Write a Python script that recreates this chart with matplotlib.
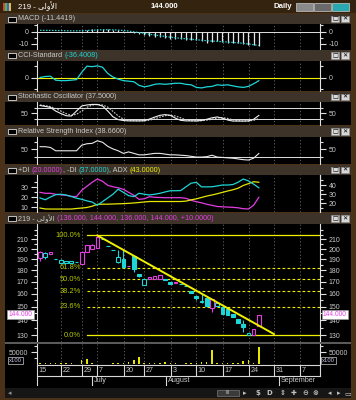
import matplotlib
matplotlib.use("Agg")
import matplotlib.pyplot as plt
from matplotlib.patches import Rectangle
from matplotlib.ticker import FixedLocator, NullFormatter, FixedFormatter
import numpy as np

plt.rcParams['font.family'] = ['Liberation Sans', 'DejaVu Sans']
plt.rcParams['axes.unicode_minus'] = False

# ---------------- DATA ----------------
days = list(range(43))
opens = [191, 192, 195, 190, 187, 187, 186.5, 188, 185.5, 197.5, 200, 201, 211, 203.5, 199, 188, 190, 184,
         193, 176.5, 167.5, 172, 172, 172.5, 172.5, 169.5, 169, 168, 166.5, 162.5, 158.3, 153.5, 156.7, 149,
         150.5, 150, 148, 144.4, 141, 137.3, 130, 130.5, 136]
highs = [198, 197, 197.5, 190, 190, 189, 188.8, 188, 197.5, 204, 205, 214.3, 211, 203.5, 199, 199, 199, 184,
         193, 176.5, 172, 174, 174.5, 176, 172.5, 169.5, 170, 168, 166.5, 162.5, 158.3, 161, 156.7, 156,
         153, 150, 149, 144.4, 141, 140, 131.3, 134.3, 144]
lows = [189, 190.5, 195, 190, 187, 187, 186.5, 188, 185.5, 197.5, 200, 201, 211, 203.5, 199, 187, 182.5, 184,
        178, 174, 167.5, 172, 172, 172.5, 171.5, 168, 169, 168, 166.5, 161, 155, 153, 150.5, 146,
        150.5, 144.5, 144, 142.5, 138, 132, 130, 130.5, 136]
closes = [197, 196, 197, 190, 189.5, 189, 188.8, 188, 197.5, 204, 204.5, 213, 211, 203.5, 199, 192.5, 183, 184,
          181, 175, 172, 174, 174.5, 176, 171.5, 168, 170, 168, 166.5, 161, 156.8, 154, 150.5, 156,
          153, 144.5, 144, 142.5, 138, 135.5, 131.3, 134, 144]
volume = [7000, 7000, 4200, 4200, 4200, 4200, 4200, 3000, 18000, 21000, 7000, 1500, 1000, 1500, 4200, 7000,
          7000, 8400, 18000, 32000, 7000, 4200, 7000, 4200, 8400, 4200, 4200, 2000, 7000, 4200, 4200, 9700,
          8400, 59700, 4200, 7000, 5600, 4200, 4200, 14000, 18000, 4200, 70800]
macd_hist = [0, 0, 0, -0.2, -0.4, -0.5, -0.4, -0.2, 0.5, 1.2, 1.8, 2.4, 2.4, 2.0, 1.5, 1.0, 0.3, -0.5, -1.0,
             -2.0, -3.0, -3.8, -4.2, -4.6, -5.2, -5.8, -6.0, -6.2, -6.5, -7.0, -7.2, -8.0, -9.0, -8.5, -8.0,
             -8.6, -9.2, -9.5, -9.6, -10.0, -10.9, -11.0, -11.44]
macd_signal = [1.0, 1.0, 1.0, 0.9, 0.8, 0.7, 0.6, 0.6, 0.7, 0.9, 1.1, 1.3, 1.5, 1.5, 1.4, 1.2, 0.9, 0.4, -0.2,
               -0.8, -1.5, -2.2, -2.8, -3.4, -4.0, -4.6, -5.1, -5.5, -5.9, -6.3, -6.7, -7.1, -7.5, -7.8, -8.0,
               -8.3, -8.6, -8.9, -9.2, -9.6, -10.2, -10.8, -11.4]
cci = [5, 18, 22, -30, -36, -36, -30, -23, 72, 153, 146, 157, 139, 58, 11, -16, -36, -43, -50, -97, -117,
       -104, -84, -77, -84, -77, -70, -70, -84, -90, -124, -131, -117, -111, -90, -97, -90, -104, -117, -124,
       -111, -77, -36.4]
stoch_k = [93, 88, 82, 62, 48, 36, 34, 62, 90, 96, 99, 99, 90, 62, 30, 14, 9, 7, 7, 7, 8, 17, 28, 38, 42, 38,
           22, 10, 7, 7, 7, 9, 16, 24, 29, 22, 12, 6, 6, 6, 7, 16, 37.5]
stoch_d = [96, 92, 87, 76, 62, 48, 38, 44, 62, 83, 95, 98, 96, 84, 60, 35, 17, 10, 8, 7, 7, 11, 18, 28, 36, 39,
           34, 24, 13, 8, 7, 8, 11, 16, 23, 25, 21, 13, 8, 6, 6, 10, 20]
rsi = [57, 57, 55, 46, 46, 46, 46, 46, 61, 65, 66, 73, 69, 58, 51, 46, 39, 43, 39, 35, 35, 37, 39, 39, 37, 35,
       35, 34, 33, 31, 29, 29, 30, 34, 29, 28, 27, 26, 24, 22, 21, 26, 38.66]
plus_di = [25, 24, 24, 23, 22.5, 22, 21, 20.6, 27, 31, 35, 38.3, 36, 32, 30.5, 29.5, 28, 25, 22, 18, 18.5, 20.6,
           20, 19.8, 19.6, 19.6, 19.6, 19.6, 19, 17, 15.6, 14.5, 13, 12, 10.8, 10.5, 10.2, 10, 9.5, 8.6, 8.3, 12, 20]
minus_di = [26, 24, 27, 29.5, 30, 29.2, 27.5, 25.7, 24.5, 22.8, 21.5, 18, 22, 26, 30, 35.5, 32, 28.5, 27.4, 31,
            30, 29.2, 30, 31, 32.5, 33.8, 33.8, 34, 38, 42, 42.9, 38, 38, 38.1, 39, 40, 40, 40.5, 43, 46.5, 44.5,
            41, 37]
adx = [15, 14, 13.9, 13.9, 13.9, 13.9, 13.9, 14.5, 15, 15.6, 17, 19, 19.2, 19.2, 19.4, 19.6, 19.8, 20.1, 20.5,
       21, 21.6, 22.1, 22.1, 22.1, 22.1, 22.1, 22.1, 22.1, 22.5, 23.9, 25, 26.5, 28, 29.2, 30.5, 32, 33.5, 34.8,
       36.5, 39.5, 41.5, 43.6, 43]
fib_low, fib_high = 130.0, 214.3
fib_levels = [0.0, 23.6, 38.2, 50.0, 61.8, 100.0]
trend_x = [11, 44.9]
trend_y = [214.3, 130.8]
week_pos = [-0.58, 4.0, 8.0, 11.0, 16.1, 20.0, 25.1, 29.9, 35.1, 40.1, 44.9, 49.9]
week_labels = ['15', '22', '29', '7', '20', '27', '3', '10', '17', '24', '31', '7']
month_pos = [10.0, 24.2, 45.9]
month_labels = ['July', 'August', 'September']
price_ticks = [130, 140, 150, 160, 170, 180, 190, 200, 210]
last_price = 144.0

# ---------------- STYLE / LAYOUT ----------------
W, H = 356, 400
fig = plt.figure(figsize=(W / 100, H / 100), dpi=100)
fig.patch.set_facecolor('#4a3118')
XMIN, XMAX = -0.58, 53.74
MAG = '#e23ee2'
CYA = '#1fd6d6'
YEL = '#f0f000'
GRAY_TXT = '#c8c8c8'
TITLE_BG = '#3d3328'
FS = 5.0
PAD = 2.2
ARABIC = '\ufef0\ufedf\ufeed\ufef7\ufe8d'  # الأولى (shaped, visual order)


def rect_px(x0, y0, x1, y1):
    return [x0 / W, 1 - y1 / H, (x1 - x0) / W, (y1 - y0) / H]


def blank(x0, y0, x1, y1, color):
    a = fig.add_axes(rect_px(x0, y0, x1, y1))
    a.set_facecolor(color)
    a.set_xticks([]); a.set_yticks([])
    for s in a.spines.values():
        s.set_visible(False)
    return a


renderer = fig.canvas.get_renderer()


def seq_text(x_px, y_px, parts, size=5.2, weight='normal'):
    x = x_px
    for s, c in parts:
        t = fig.text(x / W, 1 - y_px / H, s, color=c, fontsize=size, va='center', ha='left',
                     fontweight=weight)
        x += t.get_window_extent(renderer).width
    return x


def title_bar(y0, y1, parts):
    blank(5, y0, 351, y1, TITLE_BG)
    fig.add_artist(Rectangle(((8) / W, 1 - (y0 + 8) / H), 8 / W, 5 / H, transform=fig.transFigure,
                             facecolor='black', edgecolor='#dddddd', lw=0.6))
    seq_text(18, (y0 + y1) / 2, parts)
    for bx, sym in [(331, '□'), (341, '✕')]:
        fig.add_artist(Rectangle((bx / W, 1 - (y1 - 2) / H), 8 / W, (y1 - y0 - 4) / H,
                                 transform=fig.transFigure, facecolor='#d8d8d8', edgecolor='#909090', lw=0.5))
        fig.text((bx + 4) / W, 1 - ((y0 + y1) / 2) / H, sym, fontsize=4.5, color='black', ha='center',
                 va='center', fontweight='bold', family=['DejaVu Sans'])


def plot_axes(y0, y1):
    blank(5, y0, 351, y1, 'black')
    a = fig.add_axes(rect_px(37, y0, 320, y1))
    a.set_facecolor('none')
    a.set_xlim(XMIN, XMAX)
    for s in ['top', 'bottom']:
        a.spines[s].set_visible(False)
    for s in ['left', 'right']:
        a.spines[s].set_color('#e0e0e0'); a.spines[s].set_linewidth(0.8)
    a.tick_params(axis='x', bottom=False, labelbottom=False)
    a.tick_params(axis='y', which='both', colors='#e0e0e0', labelcolor=GRAY_TXT, left=True, right=True,
                  labelleft=True, labelright=True, direction='out', labelsize=FS, pad=PAD, width=0.8)
    a.tick_params(axis='y', which='major', length=4)
    a.tick_params(axis='y', which='minor', length=2)
    for p in week_pos[1:]:
        a.axvline(p, color='#6a6a6a', lw=0.6, ls=(0, (1.5, 2.5)), zorder=0)
    return a


# top bar
blank(0, 0, 356, 13, '#34230f')
for i, c in enumerate(['#e04040', '#40c040', '#4060e0', '#e0c040']):
    fig.add_artist(Rectangle(((3 + 2 * i) / W, 1 - 11 / H), 2 / W, 8 / H, transform=fig.transFigure,
                             facecolor=c, edgecolor='none'))
seq_text(18, 6.5, [('219 - ' + ARABIC, 'white')], size=5.6)
fig.text(164 / W, 1 - 6.5 / H, '144.000', color='white', fontsize=5.6, fontweight='bold', ha='center', va='center')
fig.text(292 / W, 1 - 6.5 / H, 'Daily', color='white', fontsize=5.6, fontweight='bold', ha='right', va='center')
for bx, fc in [(296, '#8a8a8a'), (314, '#6a6a6a'), (332, '#2aa8b0')]:
    fig.add_artist(Rectangle((bx / W, 1 - 11 / H), 17 / W, 8 / H, transform=fig.transFigure,
                             facecolor=fc, edgecolor='#cccccc', lw=0.5))

x = np.array(days)

# MACD
title_bar(14, 24, [('MACD (-11.4419)', GRAY_TXT)])
ax = plot_axes(24, 50)
ax.set_ylim(-15.1, 6.2)
ax.axhline(0, color='#e0e0e0', lw=0.7)
ax.vlines(x, 0, macd_hist, color='#e8e8e8', lw=0.9)
ax.plot(x, macd_signal, color=CYA, lw=0.9, ls=(0, (1.2, 1.2)))
ax.yaxis.set_major_locator(FixedLocator([0, -10]))
ax.yaxis.set_minor_locator(FixedLocator([-5, 5]))

# CCI
title_bar(50, 61, [('CCI-Standard ', GRAY_TXT), ('(-36.4008)', CYA)])
ax = plot_axes(61, 91)
ax.set_ylim(-171, 220)
ax.axhline(0, color=YEL, lw=0.8)
ax.plot(x, cci, color=CYA, lw=0.9)
ax.yaxis.set_major_locator(FixedLocator([0]))
ax.yaxis.set_minor_locator(FixedLocator([-150, 150]))

# Stochastic
title_bar(92, 102, [('Stochastic Oscillator (37.5000)', GRAY_TXT)])
ax = plot_axes(102, 125)
ax.set_ylim(-16, 112.5)
ax.axhline(80, color='#e0e0e0', lw=0.7)
ax.axhline(20, color='#e0e0e0', lw=0.7)
ax.plot(x, stoch_d, color='#d0d0d0', lw=0.8, ls=(0, (1.5, 1.2)))
ax.plot(x, stoch_k, color='#f0f0f0', lw=0.8)
ax.yaxis.set_major_locator(FixedLocator([50]))
ax.yaxis.set_minor_locator(FixedLocator([20, 80]))

# RSI
title_bar(126, 137, [('Relative Strength Index (38.6600)', GRAY_TXT)])
ax = plot_axes(137, 164)
ax.set_ylim(10.3, 83.2)
ax.axhline(30, color='#e0e0e0', lw=0.7)
ax.plot(x, rsi, color='#e8e8e8', lw=0.8)
ax.yaxis.set_major_locator(FixedLocator([50]))
ax.yaxis.set_minor_locator(FixedLocator([30, 70]))

# DI / ADX
title_bar(165, 175, [('+DI ', GRAY_TXT), ('(20.0000)', MAG), (', -DI ', GRAY_TXT), ('(37.0000)', CYA),
                     (', ADX ', GRAY_TXT), ('(43.0000)', YEL)])
ax = plot_axes(175, 212)
ax.set_ylim(5.3, 42.3)
ax.tick_params(axis='y', labelright=False, right=False, which='both')
ax.yaxis.set_major_locator(FixedLocator([10, 20, 30]))
ax.yaxis.set_minor_locator(FixedLocator([15, 25, 35]))
axr = ax.twinx()
axr.set_ylim(10.7, 50.9)
axr.set_xlim(XMIN, XMAX)
for s in ['top', 'bottom', 'left']:
    axr.spines[s].set_visible(False)
axr.spines['right'].set_color('#e0e0e0'); axr.spines['right'].set_linewidth(0.8)
axr.tick_params(axis='y', which='both', colors='#e0e0e0', labelcolor=GRAY_TXT, direction='out',
                labelsize=FS, pad=PAD, width=0.8)
axr.tick_params(axis='y', which='major', length=4)
axr.tick_params(axis='y', which='minor', length=2)
axr.yaxis.set_major_locator(FixedLocator([20, 30, 40]))
axr.yaxis.set_minor_locator(FixedLocator([15, 25, 35, 45]))
axr.plot(x, adx, color='#e6e600', lw=0.9)
axr.plot(x, minus_di, color=CYA, lw=0.9)
ax.plot(x, plus_di, color=MAG, lw=0.9)

# MAIN price panel
title_bar(213, 224, [('219 - ' + ARABIC + ' ', GRAY_TXT),
                     ('(136.000, 144.000, 136.000, 144.000, +10.0000)', MAG)])
ax = plot_axes(224, 342)
ax.set_yscale('log')
ax.set_ylim(125.7, 226.9)
ax.yaxis.set_major_locator(FixedLocator(price_ticks))
ax.yaxis.set_major_formatter(FixedFormatter([str(v) for v in price_ticks]))
ax.yaxis.set_minor_locator(FixedLocator([v + 5 for v in price_ticks[:-1]] + [215, 220, 125]))
ax.yaxis.set_minor_formatter(NullFormatter())

fib_start = 9.0
for lv in fib_levels:
    p = fib_low + (fib_high - fib_low) * lv / 100
    solid = lv in (0.0, 100.0)
    ax.plot([fib_start, XMAX], [p, p], color=YEL, lw=0.9 if solid else 0.8,
            ls='-' if solid else (0, (2.5, 2)), zorder=1)
    ax.text(7.9, p, f'{lv:.1f}%', color='#b8c800', fontsize=5.4, ha='right', va='center')

ax.plot(trend_x, trend_y, color=YEL, lw=1.4, zorder=4)

bw = 0.7
prev = None
for i in days:
    o, h, l, c = opens[i], highs[i], lows[i], closes[i]
    col = MAG if (prev is None or c > prev) else CYA
    hollow = c >= o
    ax.vlines(i, l, h, color=col, lw=0.8, zorder=2)
    bot, top = min(o, c), max(o, c)
    ax.add_patch(Rectangle((i - bw / 2, bot), bw, max(top - bot, 0.01), facecolor='black' if hollow else col,
                           edgecolor=col, lw=0.8, zorder=3))
    prev = c

for tx, ha in [(-1.45, 'right'), (XMAX + 0.55, 'left')]:
    ax.text(tx, last_price, '144.000', color=MAG, fontsize=4.8, ha=ha, va='center', zorder=6,
            bbox=dict(facecolor='white', edgecolor='#999999', pad=0.8, lw=0.5), clip_on=False)

# separator
blank(5, 342, 351, 344, '#5a5a5a')

# VOLUME
ax = plot_axes(344, 365)
ax.set_ylim(-2900, 84600)
ax.bar(x, volume, width=0.28, color='#e6e600', zorder=2)
ax.yaxis.set_major_locator(FixedLocator([50000]))
ax.yaxis.set_minor_locator(FixedLocator([25000, 75000]))
for xx in [9, 322]:
    fig.text(xx / W, 1 - 360.5 / H, 'x100', color='#c8c8e8', fontsize=4.2, ha='left', va='center',
             bbox=dict(facecolor='black', edgecolor='#c8c8c8', pad=0.5, lw=0.5))

# DATE AXIS
blank(5, 365, 351, 388, 'black')
axd = fig.add_axes(rect_px(37, 365, 320, 388))
axd.set_facecolor('none')
axd.set_xlim(XMIN, XMAX)
axd.set_ylim(23, 0)
axd.axis('off')
LC = '#d8d8d8'
axd.plot([XMIN, XMAX], [0.4, 0.4], color=LC, lw=0.8, clip_on=False)
axd.plot([XMIN, XMAX], [10.5, 10.5], color=LC, lw=0.8, clip_on=False)
axd.plot([XMIN + 0.05, XMIN + 0.05], [0, 20], color=LC, lw=0.8, clip_on=False)
axd.plot([XMAX, XMAX], [0, 10.5], color=LC, lw=0.8, clip_on=False)
for p, lab in zip(week_pos, week_labels):
    if p > XMIN + 0.1:
        axd.plot([p, p], [0, 10.5], color=LC, lw=0.8)
    axd.text(p + 0.35, 5.6, lab, color=GRAY_TXT, fontsize=5.2, ha='left', va='center')
for p, lab in zip(month_pos, month_labels):
    axd.plot([p, p], [10.5, 20], color=LC, lw=0.8)
    axd.text(p + 0.35, 15.5, lab, color=GRAY_TXT, fontsize=5.2, ha='left', va='center')

# bottom scroll bar
blank(5, 388, 351, 398, '#161616')
fig.text(10 / W, 1 - 393 / H, '◂', color='#909090', fontsize=5, ha='center', va='center',
         family=['DejaVu Sans'])
fig.add_artist(Rectangle((217 / W, 1 - 396 / H), 22 / W, 6 / H, transform=fig.transFigure,
                         facecolor='#3a3a3a', edgecolor='#777777', lw=0.5))
fig.text(228 / W, 1 - 393 / H, 'III', color='#bbbbbb', fontsize=4, ha='center', va='center')
for xx, s in [(245, '▸'), (258, '$'), (269, 'D'), (283, '⇕'), (294, '✚'), (305, '⊖'), (315, '⊗'),
              (330, '◂'), (339, '▸'), (348, '▭')]:
    fig.text(xx / W, 1 - 393 / H, s, color='#c0c0c0', fontsize=5, ha='center', va='center',
             fontweight='bold', family=['DejaVu Sans'])

fig.savefig('out.png', dpi=100, facecolor=fig.get_facecolor())
